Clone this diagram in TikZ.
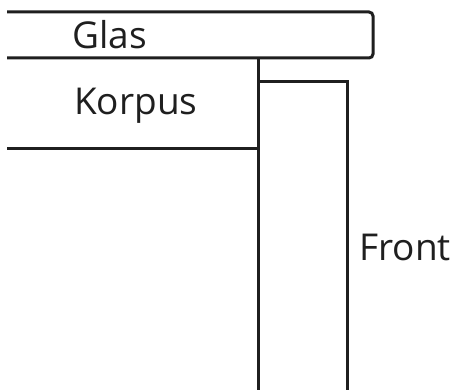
\documentclass[tikz,border=0pt]{standalone}
\usepackage{fontspec}
\setmainfont{Open Sans}
\usepackage{xcolor}
\usepackage{tikz}

\begin{document}
\begin{tikzpicture}[x=1pt, y=-1pt]
	\useasboundingbox (0, 0) rectangle (454, 390);

	\begin{scope}[
		label/.style={anchor=base west, inner sep=0pt, text=black!88, font=\fontsize{37}{44}\selectfont}]
		\node[label] (Glas) at (72, 49) {Glas};
		\node[label] (Korpus) at (74, 115) {Korpus};
		\node[label] (Front) at (359, 260) {Front};
	\end{scope}

	\coordinate (G1) at (7, 12);
	\coordinate (G2) at (373, 12);
	\coordinate (G3) at (373, 58);
	\coordinate (G4) at (7, 58);
	\coordinate (K1) at (258, 58);
	\coordinate (K2) at (258, 390);
	\coordinate (K3) at (7, 148);
	\coordinate (F1) at (258, 82);
	\coordinate (F2) at (347, 82);
	\coordinate (F3) at (347, 390);

	\draw[black!88, line width=3pt, rounded corners=4pt] (G1) -- (G2) -- (G3) -- (G4);
	\draw[black!88, line width=3pt] (K1) -- (K2);
	\draw[black!88, line width=3pt] (K3) -- (K3 -| K1);
	\draw[black!88, line width=3pt] (F1) -- (F2) -- (F3);
\end{tikzpicture}
\end{document}
